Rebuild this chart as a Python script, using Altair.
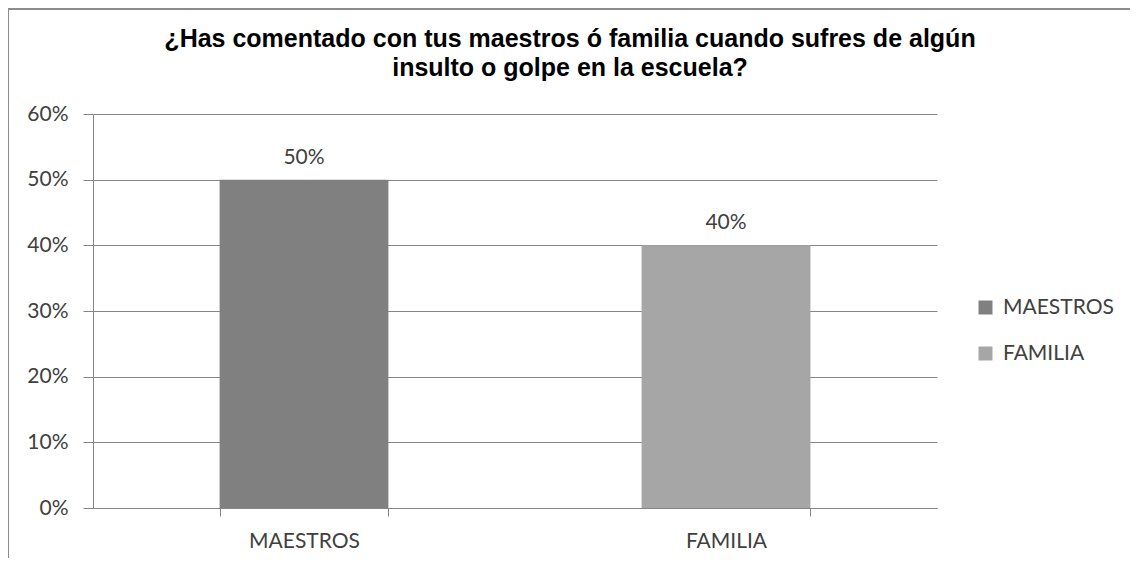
import altair as alt
import pandas as pd

categories = ["MAESTROS", "FAMILIA"]
values = [0.50, 0.40]
colors = ["#808080", "#A6A6A6"]
labels = ["50%", "40%"]
y_ticks = [0.0, 0.1, 0.2, 0.3, 0.4, 0.5, 0.6]
title_lines = ["¿Has comentado con tus maestros ó familia cuando sufres de algún",
               "insulto o golpe en la escuela?"]

df = pd.DataFrame({"cat": categories, "val": values, "lab": labels})

AX_FONT = "Lato"
TXT = "#404040"
GRID = "#868686"

x_enc = alt.X("cat:N", sort=categories,
              scale=alt.Scale(paddingInner=0.6, paddingOuter=0.3),
              axis=alt.Axis(title=None, labelAngle=0, tickBand="extent",
                            labelFont=AX_FONT, labelFontSize=21, labelColor=TXT,
                            labelPadding=14, tickSize=8, tickColor=GRID,
                            domainColor=GRID, grid=False))
y_enc = alt.Y("val:Q", scale=alt.Scale(domain=[0, 0.6], nice=False),
              axis=alt.Axis(title=None, values=y_ticks, format=".0%",
                            labelFont=AX_FONT, labelFontSize=21, labelColor=TXT,
                            labelPadding=15, tickSize=10, tickColor=GRID,
                            domainColor=GRID, gridColor=GRID, grid=True))

bars = alt.Chart(df).mark_bar().encode(
    x=x_enc, y=y_enc,
    color=alt.Color("cat:N", sort=categories,
                    scale=alt.Scale(domain=categories, range=colors),
                    legend=alt.Legend(title=None, orient="none", legendX=882, legendY=183,
                                      symbolType="square", symbolSize=196,
                                      symbolStrokeWidth=0, labelFont=AX_FONT,
                                      labelFontSize=21, labelColor=TXT,
                                      labelOffset=7, rowPadding=24)))

text = alt.Chart(df).mark_text(font=AX_FONT, fontSize=21, color=TXT, dy=-22,
                               baseline="middle").encode(
    x=alt.X("cat:N", sort=categories), y="val:Q", text="lab:N")

frame_left = alt.Chart(df).mark_rule(color="#8c8c8c", strokeWidth=2).encode(
    x=alt.value(-85), y=alt.value(-106), y2=alt.value(470))
frame_top = alt.Chart(df).mark_rule(color="#8c8c8c", strokeWidth=2).encode(
    x=alt.value(-85), x2=alt.value(1037), y=alt.value(-105))

chart = alt.layer(bars, text, frame_left, frame_top).properties(
    width=844, height=394,
    autosize=alt.AutoSizeParams(type="none"),
    padding={"left": 85, "top": 106, "right": 193, "bottom": 50},
    title=alt.TitleParams(text=title_lines, font="Liberation Sans", fontSize=25,
                          fontWeight="bold", color="black", anchor="middle",
                          dx=55, offset=-74, lineHeight=29),
).configure_view(stroke=None)

chart.save("out.html", embed_options={"renderer": "svg", "actions": False})
